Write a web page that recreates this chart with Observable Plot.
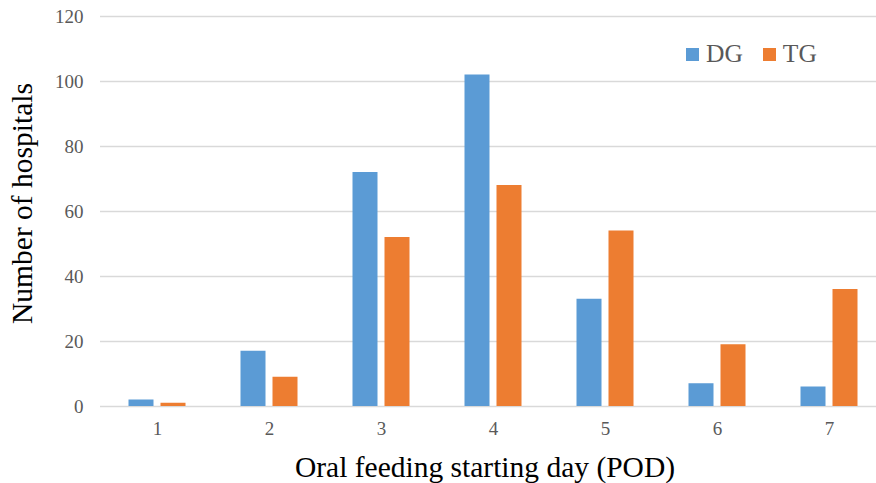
<!DOCTYPE html>
<html>
<head>
<meta charset="utf-8">
<script src="https://cdn.jsdelivr.net/npm/d3@7"></script>
<script src="https://cdn.jsdelivr.net/npm/@observablehq/plot@0.6"></script>
<style>
  html, body { margin: 0; padding: 0; background: #fff; overflow: hidden; }
  #wrap { position: relative; width: 876px; height: 483px; overflow: hidden; font-family: "Liberation Serif", "Times New Roman", serif; }
  #wrap svg { max-width: none !important; display: block; }
  #legend { position: absolute; left: 686px; top: 39px; display: flex; align-items: center; font-size: 25.5px; color: #595959; line-height: 30px; }
  #legend .sw { width: 13px; height: 13px; display: inline-block; margin-right: 7px; }
  #legend .item { display: flex; align-items: center; margin-right: 20px; }
</style>
</head>
<body>
<div id="wrap"><div id="legend"></div></div>
<script>
const days = ["1", "2", "3", "4", "5", "6", "7"];
const dgValues = [2, 17, 72, 102, 33, 7, 6];
const tgValues = [1, 9, 52, 68, 54, 19, 36];
const seriesNames = ["DG", "TG"];
const seriesColors = ["#5b9bd5", "#ed7d31"];
const yTicks = [0, 20, 40, 60, 80, 100, 120];

const dg = days.map((d, i) => ({day: d, value: dgValues[i]}));
const tg = days.map((d, i) => ({day: d, value: tgValues[i]}));

const chart = Plot.plot({
  width: 885,
  height: 483,
  marginLeft: 100,
  marginRight: 0,
  marginTop: 16,
  marginBottom: 77,
  style: {fontFamily: "'Liberation Serif', 'Times New Roman', serif", background: "#fff", maxWidth: "none"},
  x: {domain: days, padding: 0},
  y: {domain: [0, 120]},
  marks: [
    Plot.ruleY(yTicks, {stroke: "#d9d9d9", strokeWidth: 1.3}),
    Plot.barY(dg, {x: "day", y: "value", fill: seriesColors[0], insetLeft: 43.5, insetRight: 43.5, dx: -16}),
    Plot.barY(tg, {x: "day", y: "value", fill: seriesColors[1], insetLeft: 43.5, insetRight: 43.5, dx: 16}),
    Plot.axisY({ticks: yTicks, tickSize: 0, tickPadding: 17, fontSize: 19, color: "#595959", label: null}),
    Plot.axisX({tickSize: 0, tickPadding: 15, fontSize: 19, color: "#595959", label: null}),
    Plot.text(["Number of hospitals"], {frameAnchor: "left", textAnchor: "middle", lineAnchor: "middle", rotate: -90, dx: -78, dy: -8, fontSize: 29.5, fill: "#000"}),
    Plot.text(["Oral feeding starting day (POD)"], {frameAnchor: "bottom", textAnchor: "middle", lineAnchor: "middle", dy: 61, dx: -8, fontSize: 29.5, fill: "#000"})
  ]
});
chart.style.maxWidth = "none";
const wrap = document.getElementById("wrap");
wrap.insertBefore(chart, wrap.firstChild);

const legend = document.getElementById("legend");
seriesNames.forEach((n, i) => {
  const item = document.createElement("span");
  item.className = "item";
  const sw = document.createElement("span");
  sw.className = "sw";
  sw.style.background = seriesColors[i];
  item.appendChild(sw);
  item.appendChild(document.createTextNode(n));
  legend.appendChild(item);
});
</script>
</body>
</html>
